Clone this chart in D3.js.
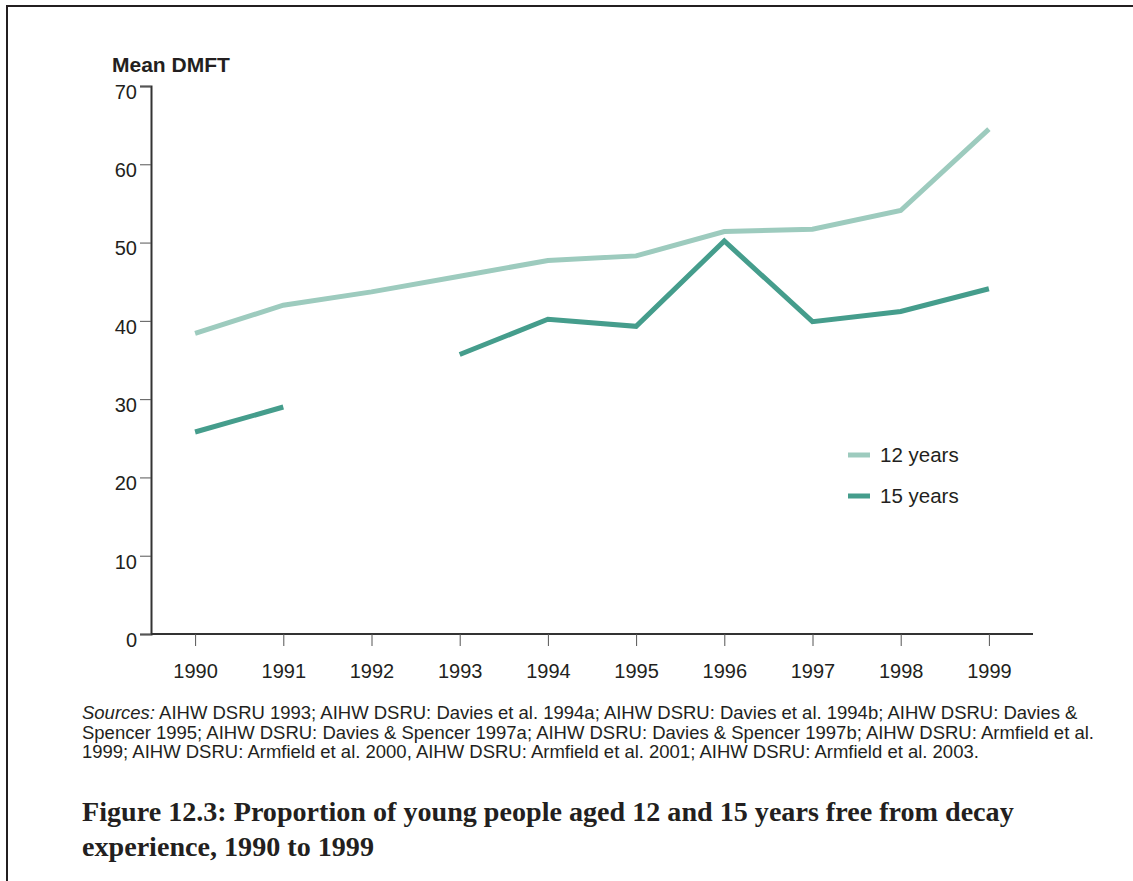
<!DOCTYPE html>
<html>
<head>
<meta charset="utf-8">
<script src="https://cdnjs.cloudflare.com/ajax/libs/d3/7.8.5/d3.min.js"></script>
<style>
  html, body { margin: 0; padding: 0; background: #fff; }
  #main { width: 1133px; height: 881px; }
</style>
</head>
<body>
<div id="main"></div>
<script>
// values
const years = [1990, 1991, 1992, 1993, 1994, 1995, 1996, 1997, 1998, 1999];
const age12 = [38.4, 42.0, 43.7, 45.7, 47.7, 48.3, 51.4, 51.7, 54.1, 64.5];
const age15 = [25.8, 29.0, null, 35.7, 40.2, 39.3, 50.2, 39.9, 41.2, 44.1];
const yTicks = [0, 10, 20, 30, 40, 50, 60, 70];
const seriesNames = ["12 years", "15 years"];
const seriesColors = ["#9dcbbe", "#459d8c"];

const sourceLines = [
  "AIHW DSRU 1993; AIHW DSRU: Davies et al. 1994a; AIHW DSRU: Davies et al. 1994b; AIHW DSRU: Davies &",
  "Spencer 1995; AIHW DSRU: Davies & Spencer 1997a; AIHW DSRU: Davies & Spencer 1997b; AIHW DSRU: Armfield et al.",
  "1999; AIHW DSRU: Armfield et al. 2000, AIHW DSRU: Armfield et al. 2001; AIHW DSRU: Armfield et al. 2003."
];
const titleLines = [
  "Figure 12.3: Proportion of young people aged 12 and 15 years free from decay",
  "experience, 1990 to 1999"
];

const textColor = "#231f20";
const sans = "'Liberation Sans', Arial, sans-serif";

const svg = d3.select("#main").append("svg")
  .attr("width", 1133)
  .attr("height", 881);

// page frame (top and left rules)
svg.append("path")
  .attr("d", "M7,881 L7,6 L1133,6")
  .attr("fill", "none")
  .attr("stroke", textColor)
  .attr("stroke-width", 2);

const x = d3.scaleLinear().domain([1989.5, 1999.5]).range([151, 1033]);
const y = d3.scaleLinear().domain([0, 70]).range([634, 86]);

// y axis
const yAxis = svg.append("g")
  .attr("transform", "translate(151,0)")
  .call(d3.axisLeft(y).tickValues(yTicks).tickSize(11).tickPadding(4));
yAxis.select(".domain").attr("stroke", "#333").attr("stroke-width", 2);
yAxis.selectAll(".tick line").attr("stroke", "#555").attr("stroke-width", 1);
yAxis.selectAll(".tick text")
  .attr("font-family", sans)
  .attr("font-size", 20)
  .attr("fill", textColor)
  .attr("dy", "0.62em")
  .attr("x", -14);

// x axis
const xAxis = svg.append("g")
  .attr("transform", "translate(0,634)")
  .call(d3.axisBottom(x).tickValues(years).tickFormat(d3.format("d")).tickSize(12).tickPadding(18));
xAxis.select(".domain").attr("stroke", "#333").attr("stroke-width", 2).attr("d", "M151,0H1033");
xAxis.selectAll(".tick line").attr("stroke", "#555").attr("stroke-width", 1);
xAxis.selectAll(".tick text")
  .attr("font-family", sans)
  .attr("font-size", 20)
  .attr("fill", textColor);

svg.append("text")
  .attr("x", 112)
  .attr("y", 72)
  .attr("font-family", sans)
  .attr("font-weight", "bold")
  .attr("font-size", 21)
  .attr("fill", textColor)
  .text("Mean DMFT");

// lines
const line = d3.line()
  .defined(d => d.v != null)
  .x(d => x(d.year))
  .y(d => y(d.v));

[age12, age15].forEach((vals, i) => {
  svg.append("path")
    .datum(years.map((yr, j) => ({ year: yr, v: vals[j] })))
    .attr("fill", "none")
    .attr("stroke", seriesColors[i])
    .attr("stroke-width", 5)
    .attr("stroke-linejoin", "miter")
    .attr("d", line);
});

// legend
const legend = svg.append("g").attr("transform", "translate(848,455)");
seriesNames.forEach((name, i) => {
  const g = legend.append("g").attr("transform", `translate(0, ${i * 41})`);
  g.append("line")
    .attr("x1", 0).attr("x2", 22)
    .attr("stroke", seriesColors[i])
    .attr("stroke-width", 5);
  g.append("text")
    .attr("x", 32)
    .attr("y", 7)
    .attr("font-family", sans)
    .attr("font-size", 20.5)
    .attr("fill", textColor)
    .text(name);
});

// sources
const src = svg.append("g").attr("font-family", sans).attr("fill", textColor);
sourceLines.forEach((s, i) => {
  const t = src.append("text")
    .attr("x", 82)
    .attr("y", 719 + i * 19.5)
    .attr("font-size", 16);
  if (i === 0) {
    t.append("tspan").attr("font-style", "italic").text("Sources:");
    t.append("tspan").text(" " + s);
  } else {
    t.text(s);
  }
});
// fit the source font size to the first line's width in the figure
(function() {
  const first = src.select("text").node();
  const w = first.getComputedTextLength();
  src.selectAll("text").attr("font-size", 16 * (996 / w));
})();

// caption
const cap = svg.append("g")
  .attr("font-family", "'Liberation Serif', 'DejaVu Serif', serif")
  .attr("font-weight", "bold")
  .attr("fill", textColor);
titleLines.forEach((s, i) => {
  cap.append("text")
    .attr("x", 82)
    .attr("y", 821 + i * 35)
    .attr("font-size", 24)
    .text(s);
});
(function() {
  const w = cap.select("text").node().getComputedTextLength();
  cap.selectAll("text").attr("font-size", 24 * (932 / w));
})();
</script>
</body>
</html>
